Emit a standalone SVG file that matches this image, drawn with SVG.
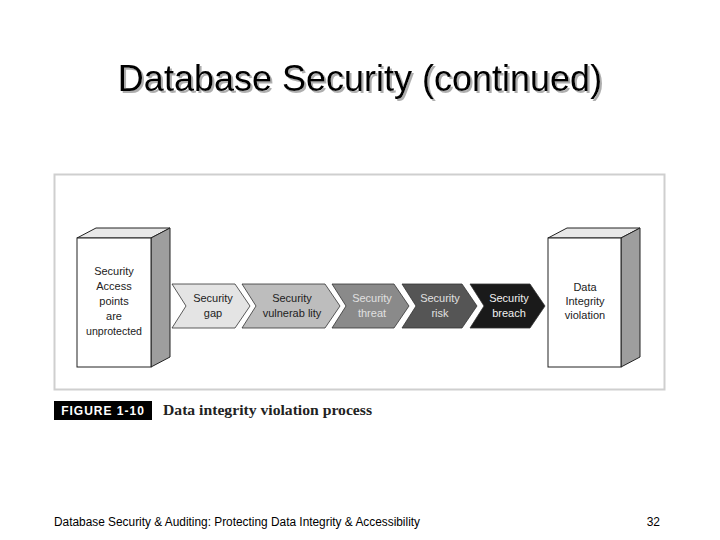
<svg xmlns="http://www.w3.org/2000/svg" width="720" height="540" viewBox="0 0 720 540">
<defs>
<filter id="tshadow" x="-5%" y="-20%" width="110%" height="150%">
<feDropShadow dx="2" dy="2" stdDeviation="0.6" flood-color="#9a9a9a" flood-opacity="0.8"/>
</filter>
</defs>
<style>
.title{font-family:"Liberation Sans",Arial,sans-serif;font-size:36px;fill:#000}
.lbl{font-family:"Liberation Sans",Arial,sans-serif;font-size:11px;text-anchor:middle}
.front{fill:#fff;stroke:#222;stroke-width:1}
.side{fill:#9e9e9e;stroke:#222;stroke-width:1}
.top{fill:#e8e8e8;stroke:#222;stroke-width:1}
.chev{stroke:#333;stroke-width:0.8}
.foot{font-family:"Liberation Sans",Arial,sans-serif;font-size:12px;fill:#000}
</style>
<rect width="720" height="540" fill="#fff"/>
<text class="title" x="360" y="91" text-anchor="middle" filter="url(#tshadow)">Database Security (continued)</text>
<rect x="54.5" y="174.5" width="610" height="215" fill="#fff" stroke="#cfcfcf" stroke-width="2"/>
<g id="box-left">
<polygon class="top" points="77,238 96,228 170,228 151,238"/>
<polygon class="side" points="151,238 170,228 170,357 151,367"/>
<rect class="front" x="77" y="238" width="74" height="129"/>
<text class="lbl" x="114" y="275" fill="#222">Security</text>
<text class="lbl" x="114" y="290" fill="#222">Access</text>
<text class="lbl" x="114" y="305" fill="#222">points</text>
<text class="lbl" x="114" y="320" fill="#222">are</text>
<text class="lbl" x="114" y="335" fill="#222" textLength="56" lengthAdjust="spacingAndGlyphs">unprotected</text>
</g>
<g id="chev-gap">
<polygon class="chev" fill="#e4e4e4" points="172,284 235,284 250,306 235,328 172,328 186,306"/>
<text class="lbl" x="213" y="302" fill="#222">Security</text>
<text class="lbl" x="213" y="317" fill="#222">gap</text>
</g>
<g id="chev-vuln">
<polygon class="chev" fill="#bdbdbd" points="242,284 325,284 340,306 325,328 242,328 256,306"/>
<text class="lbl" x="292" y="302" fill="#222">Security</text>
<text class="lbl" x="292" y="317" fill="#222">vulnerab lity</text>
</g>
<g id="chev-threat">
<polygon class="chev" fill="#8a8a8a" points="332,284 394,284 409,306 394,328 332,328 346,306"/>
<text class="lbl" x="372" y="302" fill="#e0e0e0">Security</text>
<text class="lbl" x="372" y="317" fill="#e0e0e0">threat</text>
</g>
<g id="chev-risk">
<polygon class="chev" fill="#555" points="402,284 462,284 477,306 462,328 402,328 416,306"/>
<text class="lbl" x="440" y="302" fill="#e0e0e0">Security</text>
<text class="lbl" x="440" y="317" fill="#e0e0e0">risk</text>
</g>
<g id="chev-breach">
<polygon class="chev" fill="#1a1a1a" points="470,284 530,284 545,306 530,328 470,328 484,306"/>
<text class="lbl" x="509" y="302" fill="#f0f0f0">Security</text>
<text class="lbl" x="509" y="317" fill="#f0f0f0">breach</text>
</g>
<g id="box-right">
<polygon class="top" points="548,238 567,228 640,228 621,238"/>
<polygon class="side" points="621,238 640,228 640,357 621,367"/>
<rect class="front" x="548" y="238" width="73" height="129"/>
<text class="lbl" x="585" y="291" fill="#222">Data</text>
<text class="lbl" x="585" y="305" fill="#222">Integrity</text>
<text class="lbl" x="585" y="319" fill="#222">violation</text>
</g>
<g id="caption">
<rect x="54" y="401" width="98" height="19" fill="#000"/>
<text x="103" y="415" text-anchor="middle" font-family="'Liberation Sans',Arial,sans-serif" font-size="12" font-weight="bold" fill="#fff" letter-spacing="1">FIGURE 1-10</text>
<text x="163" y="415" font-family="'Liberation Serif','Times New Roman',serif" font-size="14" font-weight="bold" fill="#222" textLength="209" lengthAdjust="spacingAndGlyphs">Data integrity violation process</text>
</g>
<text class="foot" x="54" y="526" textLength="366" lengthAdjust="spacingAndGlyphs">Database Security &amp; Auditing: Protecting Data Integrity &amp; Accessibility</text>
<text class="foot" x="660" y="526" text-anchor="end">32</text>
</svg>
